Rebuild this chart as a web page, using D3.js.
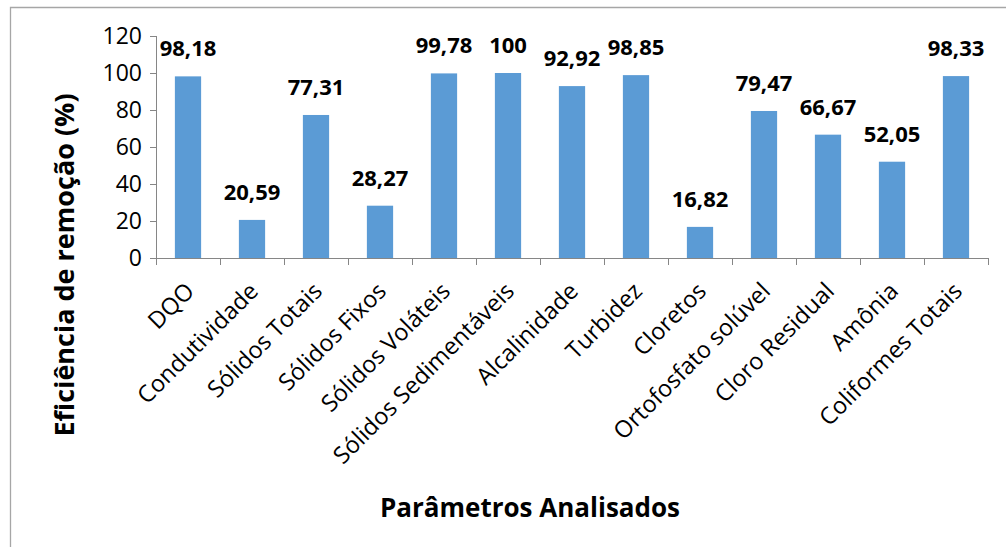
<!DOCTYPE html>
<meta charset="utf-8">
<style>
body { margin: 0; background: #fff; }
.axis path, .axis line { stroke: #868686; shape-rendering: crispEdges; }
.axis text { font: 23px "Open Sans", sans-serif; fill: #000; }
.x.axis text { font-size: 23.5px; }
.value { font: bold 22px "Open Sans", sans-serif; fill: #000; text-anchor: middle; }
.title { font: bold 26px "Open Sans", sans-serif; fill: #000; text-anchor: middle; }
</style>
<svg width="1006" height="547"></svg>
<script src="https://d3js.org/d3.v7.min.js"></script>
<script>

var categories = ["DQO", "Condutividade", "Sólidos Totais", "Sólidos Fixos", "Sólidos Voláteis",
    "Sólidos Sedimentáveis", "Alcalinidade", "Turbidez", "Cloretos", "Ortofosfato solúvel",
    "Cloro Residual", "Amônia", "Coliformes Totais"];
var values = [98.18, 20.59, 77.31, 28.27, 99.78, 100, 92.92, 98.85, 16.82, 79.47, 66.67, 52.05, 98.33];
var yTicks = [0, 20, 40, 60, 80, 100, 120];

var svg = d3.select("svg"),
    margin = {top: 36, right: 18, bottom: 289, left: 156},
    width = 1006 - margin.left - margin.right,
    height = 547 - margin.top - margin.bottom;

var format = function(v) { return String(v).replace(".", ","); };

// chart frame (only left/top visible in the picture)
svg.append("path")
    .attr("d", "M10.5,547V7.5H1006")
    .attr("fill", "none")
    .attr("stroke", "#a6a6a6")
    .attr("stroke-width", 1.3);

var x = d3.scaleBand()
    .domain(categories)
    .range([0, width])
    .paddingInner(0.59)
    .paddingOuter(0.295);

var y = d3.scaleLinear()
    .domain([0, 120])
    .range([height, 0]);

var g = svg.append("g")
    .attr("transform", "translate(" + margin.left + "," + margin.top + ")");

g.selectAll(".bar")
    .data(values)
  .enter().append("rect")
    .attr("class", "bar")
    .attr("x", function(d, i) { return x(categories[i]); })
    .attr("y", function(d) { return y(d); })
    .attr("width", x.bandwidth())
    .attr("height", function(d) { return height - y(d); })
    .attr("fill", "#5b9bd5");

g.selectAll(".value")
    .data(values)
  .enter().append("text")
    .attr("class", "value")
    .attr("x", function(d, i) { return x(categories[i]) + x.bandwidth() / 2; })
    .attr("y", function(d) { return y(d) - 20; })
    .text(format);

g.append("g")
    .attr("class", "y axis")
    .call(d3.axisLeft(y).tickValues(yTicks).tickSize(6).tickPadding(8))
    .call(function(a) { a.select(".domain").attr("d", "M-6,0.5H0.5V" + height + "H-6"); });

// category boundaries as ticks, like the original
var xa = g.append("g")
    .attr("class", "x axis")
    .attr("transform", "translate(0," + height + ")");

xa.append("path")
    .attr("d", "M0," + 0 + "H" + width)
    .attr("fill", "none");

xa.selectAll(".sep")
    .data(d3.range(categories.length + 1))
  .enter().append("line")
    .attr("x1", function(i) { return i * x.step() + 0.5; })
    .attr("x2", function(i) { return i * x.step() + 0.5; })
    .attr("y1", 0)
    .attr("y2", 7);

xa.selectAll(".lbl")
    .data(categories)
  .enter().append("text")
    .attr("text-anchor", "end")
    .attr("transform", function(d) {
      return "translate(" + (x(d) + x.bandwidth() / 2 - 4) + ",23) rotate(-45)";
    })
    .attr("dy", "0.7em")
    .text(function(d) { return d; });

svg.append("text")
    .attr("class", "title")
    .attr("transform", "translate(74,265) rotate(-90)")
    .style("font-size", "27px")
    .text("Eficiência de remoção (%)");

svg.append("text")
    .attr("class", "title")
    .attr("x", 530)
    .attr("y", 517)
    .text("Parâmetros Analisados");

</script>
